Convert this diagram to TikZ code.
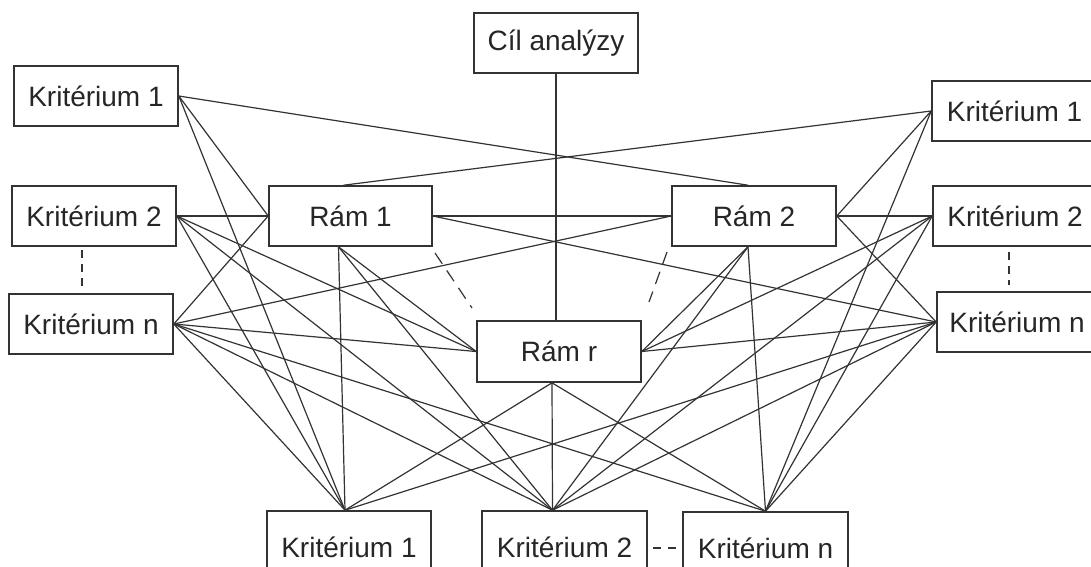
\documentclass[tikz,border=0pt]{standalone}
\usepackage{fontspec}
\setmainfont{Liberation Sans}
\usetikzlibrary{backgrounds}
\begin{document}
\begin{tikzpicture}[x=1pt,y=-1pt,
  box/.style={draw=black!80, line width=1.6pt, fill=white, inner sep=0pt,
    text=black!85, font=\fontsize{28}{32}\selectfont},
  link/.style={draw=black!80, line width=1.2pt},
  gap/.style={draw=black!80, line width=1.2pt, dash pattern=on 8pt off 6pt},
  skip/.style={draw=black!80, line width=1.2pt, dash pattern=on 13pt off 8pt}]
\useasboundingbox (0,0) rectangle (1091,566);
% boxes: corners in pixel units
\def\boxat#1#2#3#4#5#6{\node[box, minimum width=#4-#2, minimum height=#5-#3] (#1) at ({(#2+#4)/2},{(#3+#5)/2}) {#6};}
\boxat{goal}{474}{13}{638}{73}{Cíl analýzy}
\boxat{lk1}{14}{66}{178}{126}{Kritérium 1}
\boxat{lk2}{12}{186}{176}{246}{Kritérium 2}
\boxat{lkn}{9}{294}{173}{354}{Kritérium n}
\boxat{rk1}{932}{81}{1097}{141}{Kritérium 1}
\boxat{rk2}{933}{186}{1097}{246}{Kritérium 2}
\boxat{rkn}{937}{292}{1097}{352}{Kritérium n}
\boxat{r1}{269}{186}{432}{246}{Rám 1}
\boxat{r2}{672}{186}{836}{246}{Rám 2}
\boxat{rr}{477}{321}{641}{382}{Rám r}
\boxat{bk1}{267}{511}{431}{583}{Kritérium 1}
\boxat{bk2}{482}{511}{647}{583}{Kritérium 2}
\boxat{bkn}{683}{512}{848}{584}{Kritérium n}
% attachment points on the frame boxes and the lower criteria
\coordinate (r1t) at ([xshift=-7pt]r1.north);
\coordinate (r1b) at ([xshift=-12pt]r1.south);
\coordinate (r2t) at ([xshift=-6pt]r2.north);
\coordinate (r2b) at ([xshift=-6pt]r2.south);
\coordinate (rrt) at ([xshift=-3pt]rr.north);
\coordinate (rrb) at ([xshift=-7pt]rr.south);
\coordinate (b1) at ([xshift=-4pt]bk1.north);
\coordinate (b2) at ([xshift=-12pt]bk2.north);
\coordinate (bn) at (bkn.north);
% ellipsis marks between the criteria and between the frames
\coordinate (lgapA) at (82,250); \coordinate (lgapB) at (82,286);
\coordinate (rgapA) at (1009,252); \coordinate (rgapB) at (1009,285);
\coordinate (bgapA) at (653,548); \coordinate (bgapB) at (676,548);
\coordinate (m1a) at (435,253); \coordinate (m1b) at (472,308);
\coordinate (m2a) at (667,252); \coordinate (m2b) at (649,302);
\draw[gap] (lgapA) -- (lgapB);
\draw[gap] (rgapA) -- (rgapB);
\draw[gap, dash pattern=on 8pt off 7pt] (bgapA) -- (bgapB);
\draw[skip] (m1a) -- (m1b);
\draw[skip] (m2a) -- (m2b);
\begin{scope}[on background layer]
% goal and frames
\draw[link] (goal.south) -- (rrt);
\draw[link] (lk1.east) -- (r2t);
\draw[link] (rk1.west) -- (r1t);
% left criteria
\draw[link] (lk1.east) -- (r1.west);
\draw[link] (lk2.east) -- (r2.west);
\draw[link] (lkn.east) -- (r1.west);
\draw[link] (lkn.east) -- (r2.west);
\draw[link] (lk2.east) -- (rr.west);
\draw[link] (lkn.east) -- (rr.west);
% right criteria
\draw[link] (rk1.west) -- (r2.east);
\draw[link] (rk2.west) -- (r1.east);
\draw[link] (rkn.west) -- (r2.east);
\draw[link] (rkn.west) -- (r1.east);
\draw[link] (rk2.west) -- (rr.east);
\draw[link] (rkn.west) -- (rr.east);
% frames among themselves
\draw[link] (r1b) -- (rr.west);
\draw[link] (r2b) -- (rr.east);
% lower criteria 1
\draw[link] (lk1.east) -- (b1);
\draw[link] (lk2.east) -- (b1);
\draw[link] (lkn.east) -- (b1);
\draw[link] (r1b) -- (b1);
\draw[link] (rrb) -- (b1);
\draw[link] (rkn.west) -- (b1);
% lower criteria 2
\draw[link] (lk2.east) -- (b2);
\draw[link] (lkn.east) -- (b2);
\draw[link] (r1b) -- (b2);
\draw[link] (rrb) -- (b2);
\draw[link] (r2b) -- (b2);
\draw[link] (rk2.west) -- (b2);
\draw[link] (rkn.west) -- (b2);
% lower criteria n
\draw[link] (rk1.west) -- (bn);
\draw[link] (rk2.west) -- (bn);
\draw[link] (rkn.west) -- (bn);
\draw[link] (r2b) -- (bn);
\draw[link] (rrb) -- (bn);
\draw[link] (lkn.east) -- (bn);
\end{scope}
\end{tikzpicture}
\end{document}
